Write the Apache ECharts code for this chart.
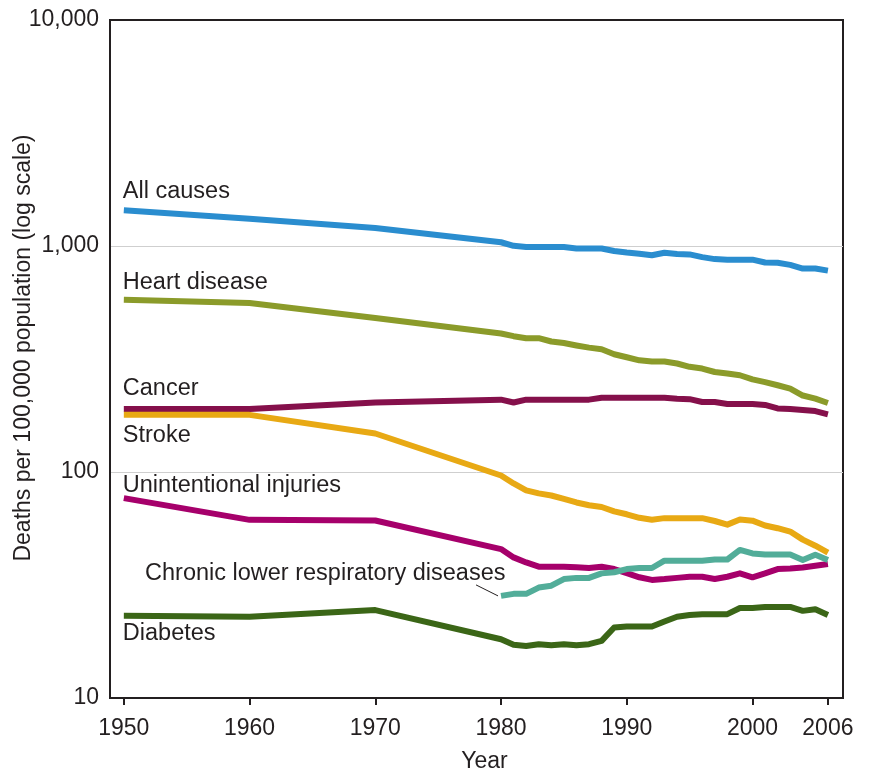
<!DOCTYPE html>
<html>
<head>
<meta charset="utf-8">
<script src="https://cdn.jsdelivr.net/npm/echarts@6.0.0/dist/echarts.min.js"></script>
<style>
html, body { margin: 0; padding: 0; background: #fff; }
#chart { width: 874px; height: 778px; }
</style>
</head>
<body>
<div id="chart"></div>
<script>
// years: 1950, 1960, 1970, then every year 1980-2006
var years = [1950, 1960, 1970, 1980, 1981, 1982, 1983, 1984, 1985, 1986, 1987, 1988, 1989, 1990,
    1991, 1992, 1993, 1994, 1995, 1996, 1997, 1998, 1999, 2000, 2001, 2002, 2003, 2004, 2005, 2006];
var yearTicks = [1950, 1960, 1970, 1980, 1990, 2000, 2006];
var rateTicks = [10, 100, 1000, 10000];

// deaths per 100,000 population
var allCauses = [1440, 1320, 1200, 1039, 1002, 990, 990, 990, 990, 975, 975, 975, 950, 935,
    925, 910, 934, 921, 918, 893, 875, 870, 870, 870, 845, 843, 825, 795, 795, 778];
var heartDisease = [579, 560, 480, 410, 399, 391, 391, 378, 372, 363, 355, 349, 332, 322,
    312, 308, 308, 302, 292, 287, 277, 273, 268, 257, 250, 242, 234, 218, 211, 202];
var cancer = [190, 190, 203, 209, 203, 209, 209, 209, 209, 209, 209, 213, 213, 213,
    213, 213, 213, 211, 210, 204, 204, 200, 200, 200, 198, 191, 190, 188, 186, 180];
var stroke = [179, 179, 148, 96.5, 89, 83, 80.4, 78.7, 76, 73.3, 71.3, 70, 67, 65,
    62.7, 61.5, 62.5, 62.5, 62.5, 62.5, 60.7, 58.5, 61.6, 60.9, 58, 56.4, 54.5, 50.2, 47.2, 44];
var injuries = [76.6, 61.4, 61, 45.6, 41.9, 39.8, 38.1, 38.1, 38.1, 37.9, 37.6, 38.1, 37.2, 35.7,
    34.2, 33.3, 33.6, 34, 34.4, 34.4, 33.6, 34.4, 35.6, 34.2, 35.6, 37.2, 37.4, 37.8, 38.5, 39.2];
var respiratory = [null, null, null, 28.3, 28.9, 28.9, 30.8, 31.4, 33.6, 34, 34, 35.6, 36, 37.2,
    37.6, 37.6, 40.5, 40.5, 40.5, 40.5, 41, 41, 45.2, 43.6, 43.1, 43.1, 43.1, 40.8, 43, 40.8];
var diabetes = [23.1, 22.9, 24.5, 18.2, 17.2, 17.0, 17.3, 17.1, 17.3, 17.1, 17.3, 17.9, 20.5, 20.7,
    20.7, 20.7, 21.8, 22.9, 23.3, 23.5, 23.5, 23.5, 25, 25, 25.3, 25.3, 25.3, 24.3, 24.7, 23.3];

var seriesNames = ['All causes', 'Heart disease', 'Cancer', 'Stroke', 'Unintentional injuries',
    'Chronic lower respiratory diseases', 'Diabetes'];
var seriesData = [allCauses, heartDisease, cancer, stroke, injuries, respiratory, diabetes];
var seriesColors = ['#2a8dcf', '#8b9b2a', '#85104b', '#e8a914', '#a6006b', '#52ad99', '#3b6617'];

var ink = '#231f20';
var fontFamily = '"Liberation Sans", Arial, Helvetica, sans-serif';

var chart = echarts.init(document.getElementById('chart'));

function pairs(values) {
    var out = [];
    for (var i = 0; i < years.length; i++) {
        if (values[i] != null) out.push([years[i], values[i]]);
    }
    return out;
}

var option = {
    animation: false,
    backgroundColor: '#fff',
    textStyle: { fontFamily: fontFamily, color: ink },
    grid: {
        left: 110, right: 31, top: 20, bottom: 80,
        outerBoundsMode: 'none',
        containLabel: false,
        show: true, borderColor: ink, borderWidth: 2
    },
    xAxis: {
        type: 'value',
        min: 1948.9,
        max: 2007.2,
        name: 'Year',
        nameLocation: 'middle',
        nameGap: 52,
        nameTextStyle: { fontSize: 23, color: ink, fontFamily: fontFamily, padding: [0, 0, 0, 16] },
        axisLine: { show: true, lineStyle: { color: ink, width: 2 } },
        axisTick: { show: true, customValues: yearTicks, length: 7, lineStyle: { color: ink, width: 2 } },
        axisLabel: {
            customValues: yearTicks, fontSize: 23, color: ink, margin: 19, fontFamily: fontFamily,
            formatter: function (v) { return String(v); }
        },
        splitLine: { show: false }
    },
    yAxis: {
        type: 'log',
        logBase: 10,
        min: 10,
        max: 10000,
        name: 'Deaths per 100,000 population (log scale)',
        nameLocation: 'middle',
        nameGap: 75,
        nameMoveOverlap: false,
        nameTextStyle: { fontSize: 23, color: ink, fontFamily: fontFamily, padding: [0, 0, 0, 22] },
        axisLine: { show: true, lineStyle: { color: ink, width: 2 } },
        axisTick: { show: false },
        axisLabel: {
            fontSize: 23, color: ink, margin: 11, fontFamily: fontFamily,
            showMinLabel: true, showMaxLabel: true,
            formatter: function (v) { return Math.round(v).toLocaleString('en-US'); }
        },
        splitLine: { show: true, showMinLine: false, showMaxLine: false, lineStyle: { color: '#cfcfcf', width: 1 } }
    },
    series: seriesNames.map(function (name, i) {
        return {
            name: name,
            type: 'line',
            data: pairs(seriesData[i]),
            symbol: 'none',
            lineStyle: { color: seriesColors[i], width: 6, join: 'round' },
            itemStyle: { color: seriesColors[i] },
            z: 2 + i
        };
    })
};
chart.setOption(option);

// text labels next to the first point of each line (offset to text baseline)
var labelOffsets = [[-1, -10.7], [-1, -9.3], [-1, -12.3], [-1, 29], [-1, -5], [-356, -14.3], [-1, 26]];
var graphics = [];
seriesNames.forEach(function (name, i) {
    var first = pairs(seriesData[i])[0];
    var pt = chart.convertToPixel({ gridIndex: 0 }, first);
    graphics.push({
        type: 'text',
        z: 20,
        style: {
            text: name,
            x: pt[0] + labelOffsets[i][0],
            y: pt[1] + labelOffsets[i][1] - 8,
            verticalAlign: 'middle',
            align: 'left',
            font: '23.5px ' + fontFamily,
            fill: ink
        }
    });
    if (i === 5) {
        graphics.push({
            type: 'line',
            z: 20,
            shape: { x1: pt[0] - 25, y1: pt[1] - 11, x2: pt[0] - 3, y2: pt[1] },
            style: { stroke: ink, lineWidth: 1 }
        });
    }
});
chart.setOption({ graphic: graphics });
</script>
</body>
</html>
